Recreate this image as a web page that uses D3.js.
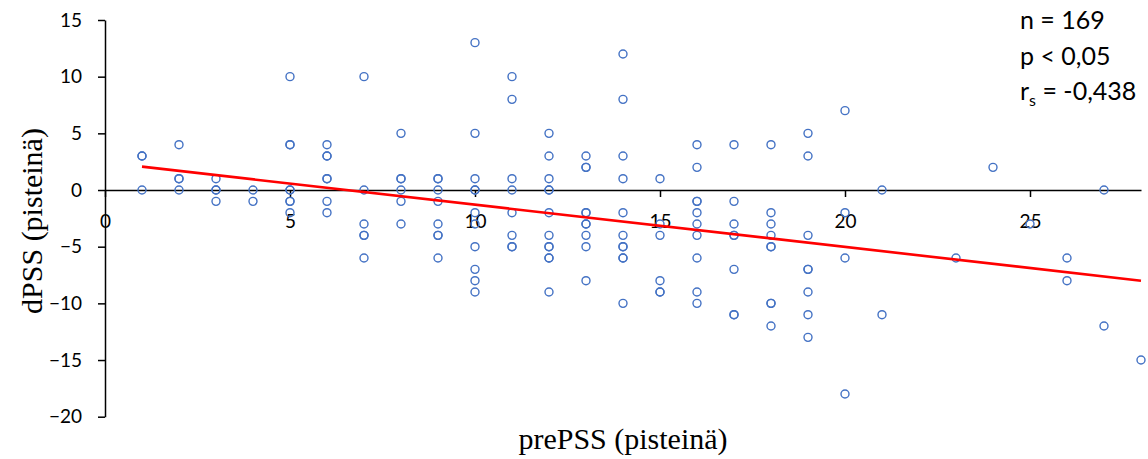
<!DOCTYPE html>
<head>
    <meta charset="utf-8">
    <script src="https://d3js.org/d3.v7.min.js"></script>
    <style>
        body {
            margin: 0;
            background: #fff;
        }
        .axis text {
            font-family: Lato, "Open Sans", sans-serif;
            font-size: 19px;
            fill: #000;
        }
        .axis path,
        .axis line {
            stroke: #000;
            stroke-width: 1.5px;
        }
        .dot {
            fill: none;
            stroke: #4472c4;
            stroke-width: 1.4px;
        }
        .title {
            font-family: "Liberation Serif", "Times New Roman", serif;
            font-size: 30px;
            fill: #000;
        }
        .stats {
            font-family: Lato, "Open Sans", sans-serif;
            font-size: 25px;
            fill: #000;
        }
    </style>
</head>

<body>
<div id="vis"></div>

<script>
    // prePSS (x) and dPSS (y) scores
    var prePSS = [
        1,1,1, 2,2,2,2, 3,3,3,3, 4,4,
        5,5,5,5,5,5,5,5, 6,6,6,6,6,6,6, 7,7,7,7,7,7, 8,8,8,8,8,8,
        9,9,9,9,9,9,9,9, 10,10,10,10,10,10,10,10,10,10,10,
        11,11,11,11,11,11,11,11, 12,12,12,12,12,12,12,12,12,12,12,12,
        13,13,13,13,13,13,13,13,13,13, 14,14,14,14,14,14,14,14,14,14,14,
        15,15,15,15,15,15, 16,16,16,16,16,16,16,16,16,16,
        17,17,17,17,17,17,17,17, 18,18,18,18,18,18,18,18,18,
        19,19,19,19,19,19,19,19, 20,20,20,20, 21,21, 23, 24, 25, 26,26, 27,27, 28
    ];
    var dPSS = [
        3,3,0, 4,1,1,0, 1,0,0,-1, 0,-1,
        10,4,4,0,0,-1,-1,-2, 4,3,3,1,1,-1,-2, 10,0,-3,-4,-4,-6, 5,1,1,0,-1,-3,
        1,1,0,-1,-3,-4,-4,-6, 13,5,1,0,0,-2,-3,-5,-7,-8,-9,
        10,8,1,0,-2,-4,-5,-5, 5,3,1,0,0,-2,-4,-5,-5,-6,-6,-9,
        3,2,2,-2,-2,-3,-3,-4,-5,-8, 12,8,3,1,-2,-4,-5,-5,-6,-6,-10,
        1,-3,-4,-8,-9,-9, 4,2,-1,-1,-2,-3,-4,-6,-9,-10,
        4,-1,-3,-4,-4,-7,-11,-11, 4,-2,-3,-4,-5,-5,-10,-10,-12,
        5,3,-4,-7,-7,-9,-11,-13, 7,-2,-6,-18, 0,-11, -6, 2, -3, -6,-8, 0,-12, -15
    ];

    // trend line end points
    var trendX = [1, 28],
        trendY = [2.06, -8.0];

    var xTicks = [0, 5, 10, 15, 20, 25],
        yTicks = [-20, -15, -10, -5, 0, 5, 10, 15];

    var xTitle = "prePSS (pisteinä)",
        yTitle = "dPSS (pisteinä)";

    var statLines = ["n = 169", "p < 0,05", "r|s| = -0,438"];

    var width = 1148,
        height = 459;

    var x = d3.scaleLinear()
        .domain([0, 28])
        .range([105, 1141]);

    var y = d3.scaleLinear()
        .domain([-20, 15])
        .range([416.7, 20]);

    var svg = d3.select("#vis")
        .append("svg")
        .attr("width", width)
        .attr("height", height);

    ////////// axes //////////

    svg.append("g")
        .attr("class", "axis y-axis")
        .attr("transform", "translate(" + x(0) + ",0)")
        .call(d3.axisLeft(y)
            .tickValues(yTicks)
            .tickSize(7)
            .tickSizeOuter(0)
            .tickPadding(16));

    svg.append("g")
        .attr("class", "axis x-axis")
        .attr("transform", "translate(0," + y(0) + ")")
        .call(d3.axisBottom(x)
            .tickValues(xTicks)
            .tickSize(7)
            .tickSizeOuter(0)
            .tickPadding(18));

    ////////// points //////////

    var points = prePSS.map(function(d, i) { return {x: d, y: dPSS[i]}; });

    svg.append("g")
        .selectAll(".dot")
        .data(points)
        .enter()
        .append("circle")
        .attr("class", "dot")
        .attr("cx", function(d) { return x(d.x); })
        .attr("cy", function(d) { return y(d.y); })
        .attr("r", 4);

    ////////// trend line //////////

    var line = d3.line()
        .x(function(d) { return x(d[0]); })
        .y(function(d) { return y(d[1]); });

    svg.append("path")
        .datum(d3.zip(trendX, trendY))
        .attr("d", line)
        .attr("fill", "none")
        .attr("stroke", "#ff0000")
        .attr("stroke-width", 2.6);

    ////////// titles //////////

    svg.append("text")
        .attr("class", "title")
        .attr("x", 623)
        .attr("y", 449)
        .attr("text-anchor", "middle")
        .text(xTitle);

    svg.append("text")
        .attr("class", "title")
        .attr("transform", "translate(42,221) rotate(-90)")
        .attr("text-anchor", "middle")
        .text(yTitle);

    // stats box, "|s|" marks a subscript
    var stats = svg.append("g");
    statLines.forEach(function(s, i) {
        var t = stats.append("text")
            .attr("class", "stats")
            .attr("x", 1020)
            .attr("y", 29 + i * 35.5);
        var parts = s.split("|");
        if (parts.length == 3) {
            t.append("tspan").text(parts[0]);
            t.append("tspan").attr("font-size", "16px").attr("dy", 6).text(parts[1]);
            t.append("tspan").attr("dy", -6).text(parts[2]);
        } else {
            t.text(s);
        }
    });
</script>
</body>
